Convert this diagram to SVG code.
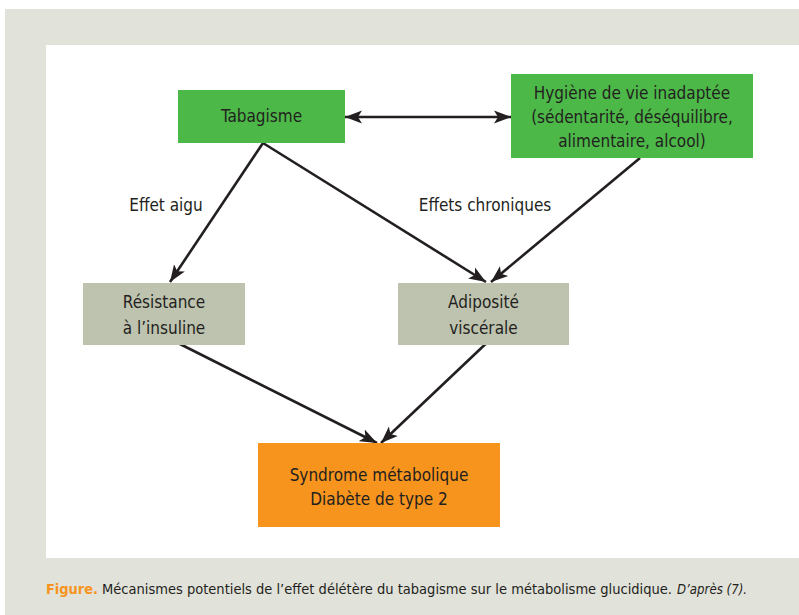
<svg xmlns="http://www.w3.org/2000/svg" width="799" height="615" viewBox="0 0 799 615">
<style>
text{font-family:"Liberation Sans Narrow","DejaVu Sans Condensed","Liberation Sans",sans-serif;fill:#231F20;font-size:17px}
.c{text-anchor:middle}
.green{fill:#4CB848}
.gray{fill:#BEC3AF}
.orange{fill:#F7941D}
.conn line{stroke:#231F20;stroke-width:2.6;marker-end:url(#ah)}
.cap{font-size:14.8px}
</style>
<defs>
<marker id="ah" markerUnits="userSpaceOnUse" markerWidth="18" markerHeight="14" refX="17" refY="7" orient="auto-start-reverse" viewBox="0 0 18 14">
<path d="M0,0.5 L17,7 L0,13.5 L4,7 z" fill="#231F20"/>
</marker>
</defs>
<rect x="0" y="0" width="799" height="615" fill="#FFFFFF"/>
<rect x="5" y="9" width="794" height="606" fill="#E1E2DA"/>
<rect x="46" y="45" width="753" height="513" fill="#FFFFFF"/>

<g class="conn">
<line x1="345" y1="117" x2="511" y2="117" marker-start="url(#ah)"/>
<line x1="263" y1="143" x2="170" y2="282"/>
<line x1="263" y1="143" x2="486" y2="282"/>
<line x1="640" y1="158" x2="491" y2="282"/>
<line x1="168" y1="338" x2="377" y2="443"/>
<line x1="494" y1="336" x2="381" y2="443"/>
</g>

<g id="tabagisme">
<rect class="green" x="178" y="90" width="167" height="53"/>
<text class="c" x="261.5" y="122">Tabagisme</text>
</g>
<g id="hygiene">
<rect class="green" x="511" y="74" width="242" height="84"/>
<text class="c" x="632" y="99">Hygiène de vie inadaptée</text>
<text class="c" x="632" y="123">(sédentarité, déséquilibre,</text>
<text class="c" x="632" y="147">alimentaire, alcool)</text>
</g>
<g id="resistance">
<rect class="gray" x="83" y="283" width="162" height="62"/>
<text class="c" x="164" y="308">Résistance</text>
<text class="c" x="164" y="334">à l’insuline</text>
</g>
<g id="adiposite">
<rect class="gray" x="398" y="283" width="171" height="62"/>
<text class="c" x="483.5" y="308">Adiposité</text>
<text class="c" x="483.5" y="334">viscérale</text>
</g>
<g id="syndrome">
<rect class="orange" x="258" y="443" width="242" height="84"/>
<text class="c" x="379" y="481">Syndrome métabolique</text>
<text class="c" x="379" y="505">Diabète de type 2</text>
</g>

<g id="labels">
<text class="c" x="166" y="211">Effet aigu</text>
<text class="c" x="485" y="211">Effets chroniques</text>
</g>

<g id="caption">
<text class="cap" x="46" y="594" font-weight="bold" style="fill:#F7941D" textLength="52" lengthAdjust="spacingAndGlyphs">Figure.</text>
<text class="cap" x="102" y="594" textLength="570" lengthAdjust="spacingAndGlyphs">Mécanismes potentiels de l’effet délétère du tabagisme sur le métabolisme glucidique.</text>
<text class="cap" x="677" y="594" font-style="italic" textLength="70" lengthAdjust="spacingAndGlyphs">D’après (7).</text>
</g>
</svg>
